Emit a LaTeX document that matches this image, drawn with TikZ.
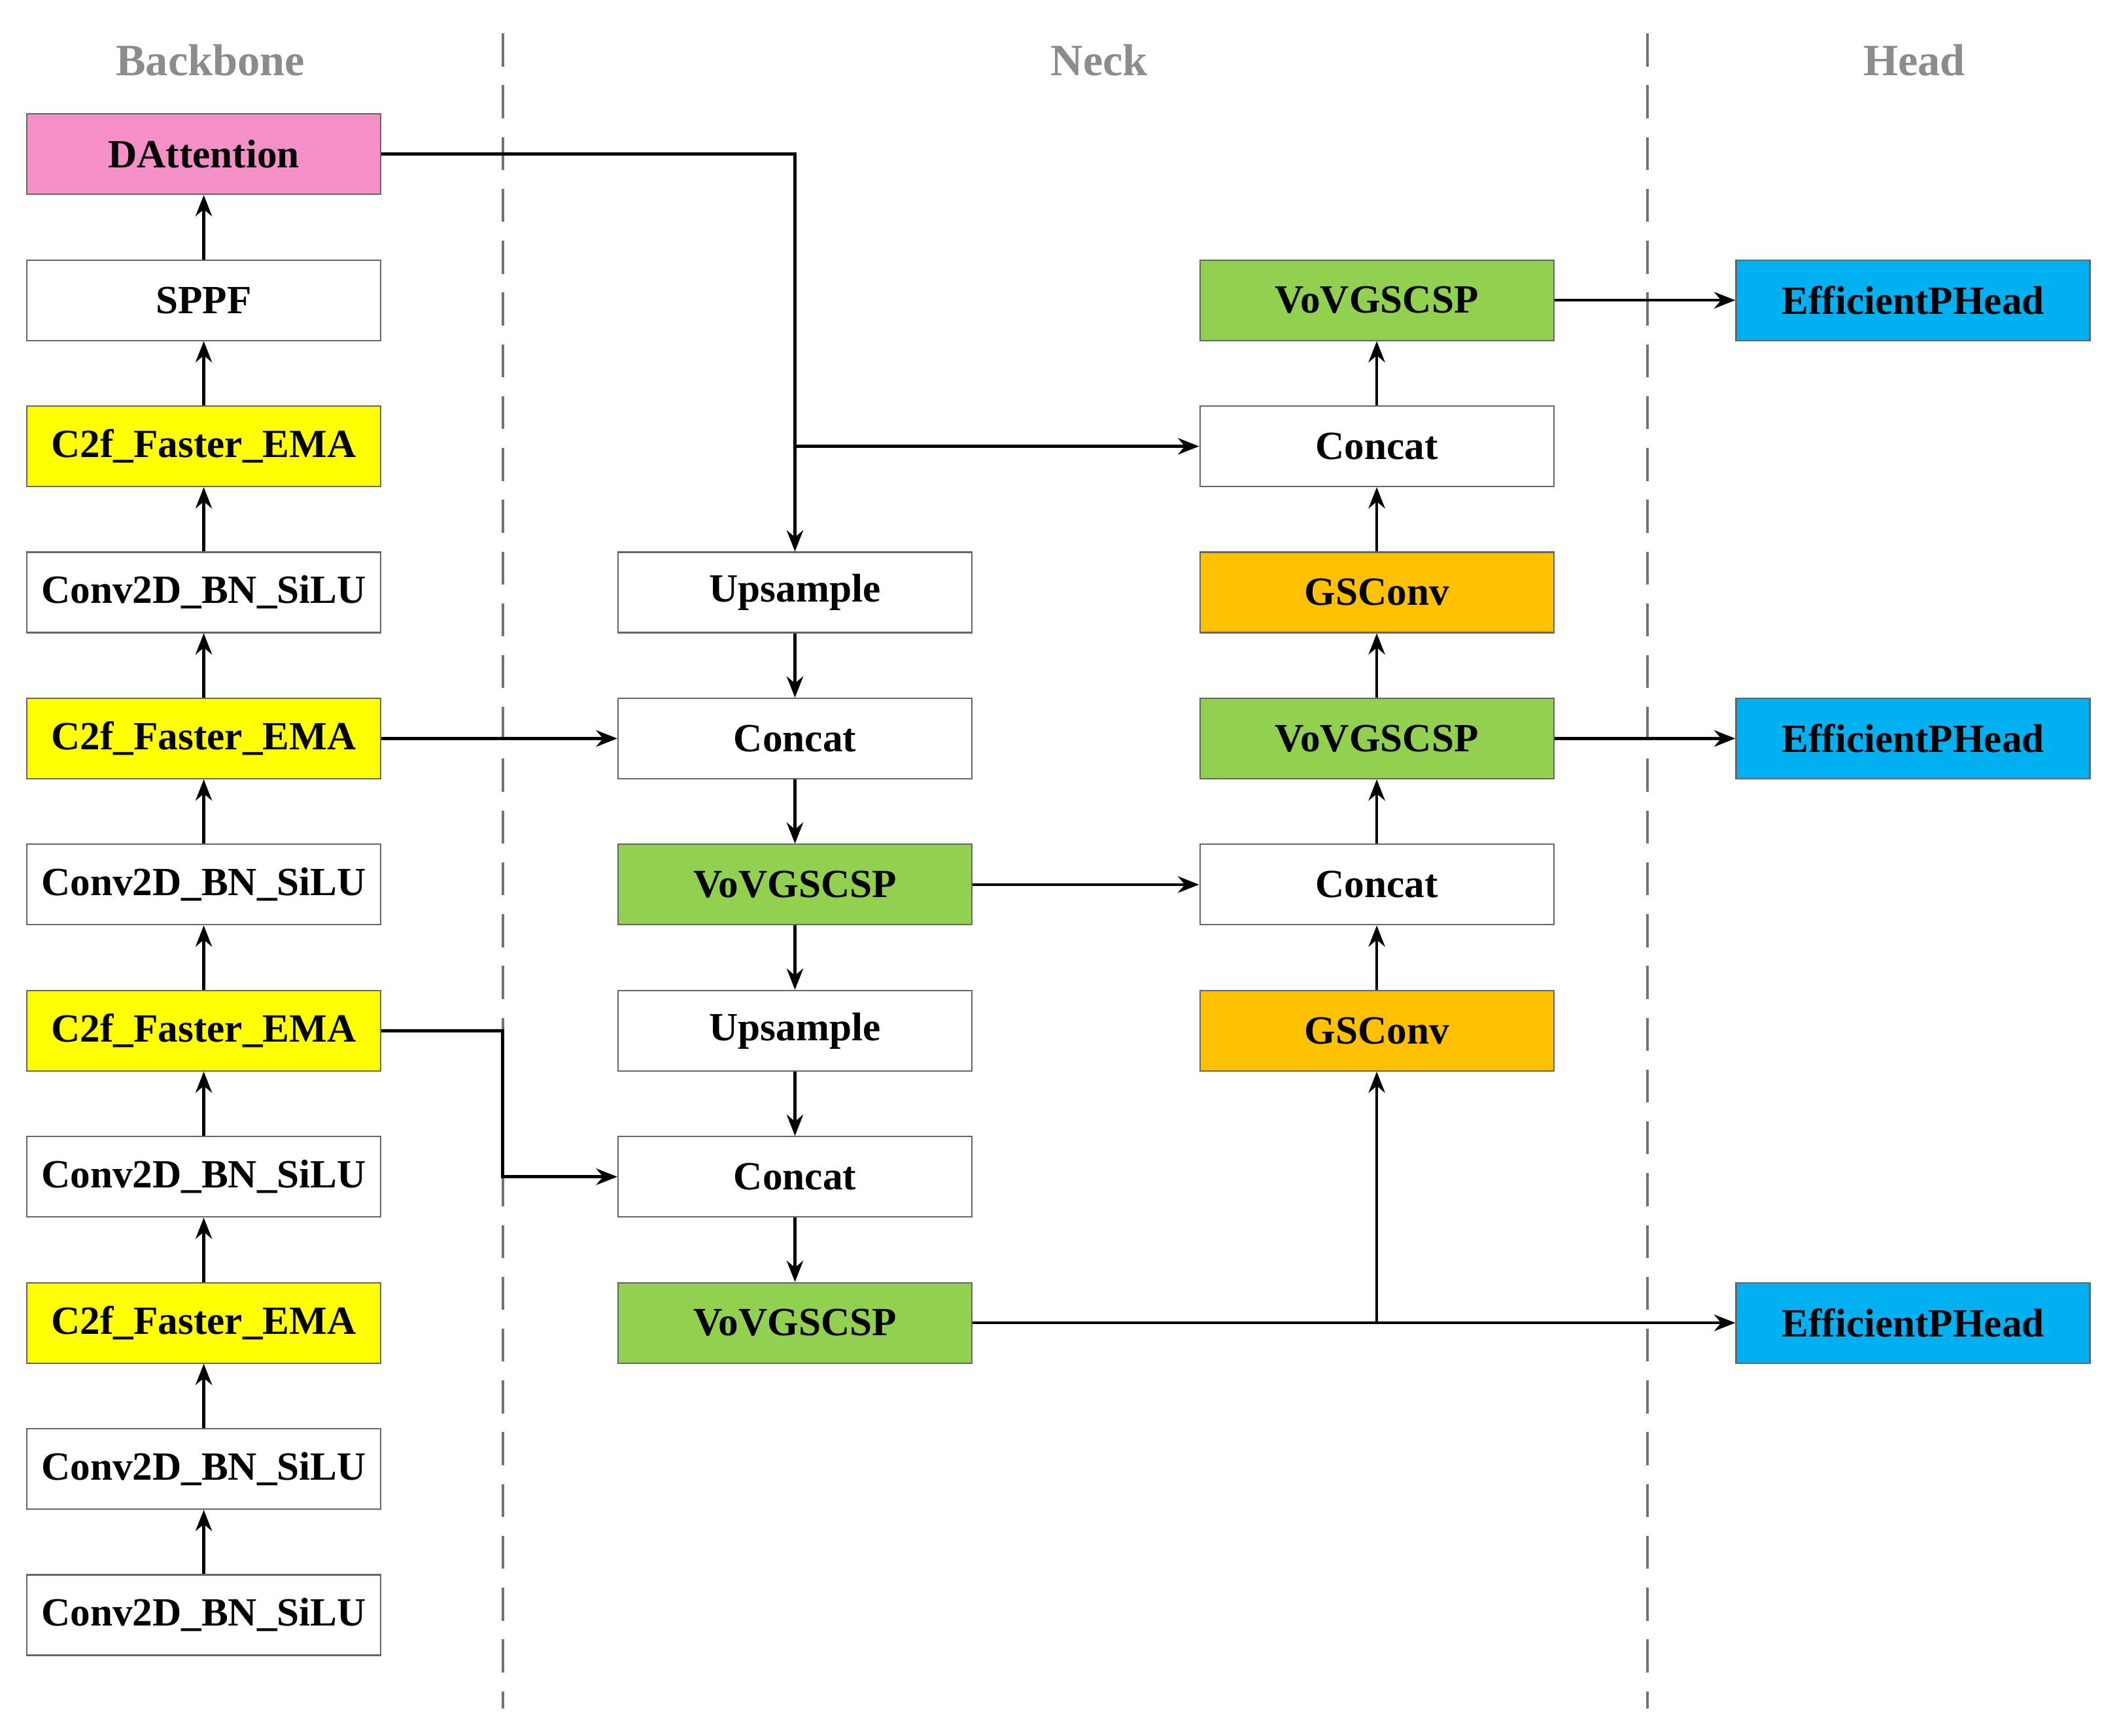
\documentclass[tikz,border=0pt]{standalone}
\usepackage{fontspec}
\setmainfont{Liberation Serif}
\usetikzlibrary{arrows.meta}
\definecolor{pk}{HTML}{F48FC8}
\definecolor{yl}{HTML}{FFFF00}
\definecolor{gr}{HTML}{92D050}
\definecolor{og}{HTML}{FFC000}
\definecolor{bl}{HTML}{00B0F0}
\begin{document}
\begin{tikzpicture}[x=0.02cm,y=-0.02cm,
 box/.style={draw=black!60,line width=0.6pt,minimum width=5.28cm,minimum height=1.2cm,font=\fontsize{17}{17}\selectfont\bfseries,inner sep=0pt},
 ar/.style={line width=1.3pt,-{Stealth[length=9pt,width=7pt]}},
 ln/.style={line width=1.3pt},
 ttl/.style={font=\fontsize{19}{19}\selectfont\bfseries,text=black!45}]
\useasboundingbox (0,0) rectangle (1568,1295);
\draw[black!55,line width=1.2pt,dash pattern=on 14pt off 8pt] (375,25) -- (375,1275);
\draw[black!55,line width=1.2pt,dash pattern=on 14pt off 8pt] (1229,25) -- (1229,1275);
\node[ttl] (t1) at (157,45) {Backbone};
\node[ttl] (t2) at (820,45) {Neck};
\node[ttl] (t3) at (1428,45) {Head};
% backbone
\node[box,fill=pk] (b1) at (152,115) {DAttention};
\node[box] (b2) at (152,224) {SPPF};
\node[box,fill=yl] (b3) at (152,333) {C2f\_Faster\_EMA};
\node[box] (b4) at (152,442) {Conv2D\_BN\_SiLU};
\node[box,fill=yl] (b5) at (152,551) {C2f\_Faster\_EMA};
\node[box] (b6) at (152,660) {Conv2D\_BN\_SiLU};
\node[box,fill=yl] (b7) at (152,769) {C2f\_Faster\_EMA};
\node[box] (b8) at (152,878) {Conv2D\_BN\_SiLU};
\node[box,fill=yl] (b9) at (152,987) {C2f\_Faster\_EMA};
\node[box] (b10) at (152,1096) {Conv2D\_BN\_SiLU};
\node[box] (b11) at (152,1205) {Conv2D\_BN\_SiLU};
\foreach \a/\b in {b11/b10,b10/b9,b9/b8,b8/b7,b7/b6,b6/b5,b5/b4,b4/b3,b3/b2,b2/b1}
  \draw[ar] (\a) -- (\b);
% neck col1
\node[box] (n1) at (593,442) {Upsample};
\node[box] (n2) at (593,551) {Concat};
\node[box,fill=gr] (n3) at (593,660) {VoVGSCSP};
\node[box] (n4) at (593,769) {Upsample};
\node[box] (n5) at (593,878) {Concat};
\node[box,fill=gr] (n6) at (593,987) {VoVGSCSP};
\foreach \a/\b in {n1/n2,n2/n3,n3/n4,n4/n5,n5/n6}
  \draw[ar] (\a) -- (\b);
% neck col2
\node[box,fill=og] (m1) at (1027,769) {GSConv};
\node[box] (m2) at (1027,660) {Concat};
\node[box,fill=gr] (m3) at (1027,551) {VoVGSCSP};
\node[box,fill=og] (m4) at (1027,442) {GSConv};
\node[box] (m5) at (1027,333) {Concat};
\node[box,fill=gr] (m6) at (1027,224) {VoVGSCSP};
\foreach \a/\b in {m1/m2,m2/m3,m3/m4,m4/m5,m5/m6}
  \draw[ar] (\a) -- (\b);
% head
\node[box,fill=bl] (h1) at (1427,224) {EfficientPHead};
\node[box,fill=bl] (h2) at (1427,551) {EfficientPHead};
\node[box,fill=bl] (h3) at (1427,987) {EfficientPHead};
% cross links
\coordinate (j1) at (593,333);
\coordinate (j2) at (1027,987);
\coordinate (j3) at (375,769);
\draw[ar] (b1.east) -| (n1.north);
\draw[ar] (j1) -- (m5.west);
\draw[ar] (b5.east) -- (n2.west);
\draw[ar] (b7.east) -- (j3) |- (n5.west);
\draw[ar] (n3.east) -- (m2.west);
\draw[ar] (n6.east) -- (h3.west);
\draw[ar] (j2) -- (m1.south);
\draw[ar] (m3.east) -- (h2.west);
\draw[ar] (m6.east) -- (h1.west);
\end{tikzpicture}
\end{document}
